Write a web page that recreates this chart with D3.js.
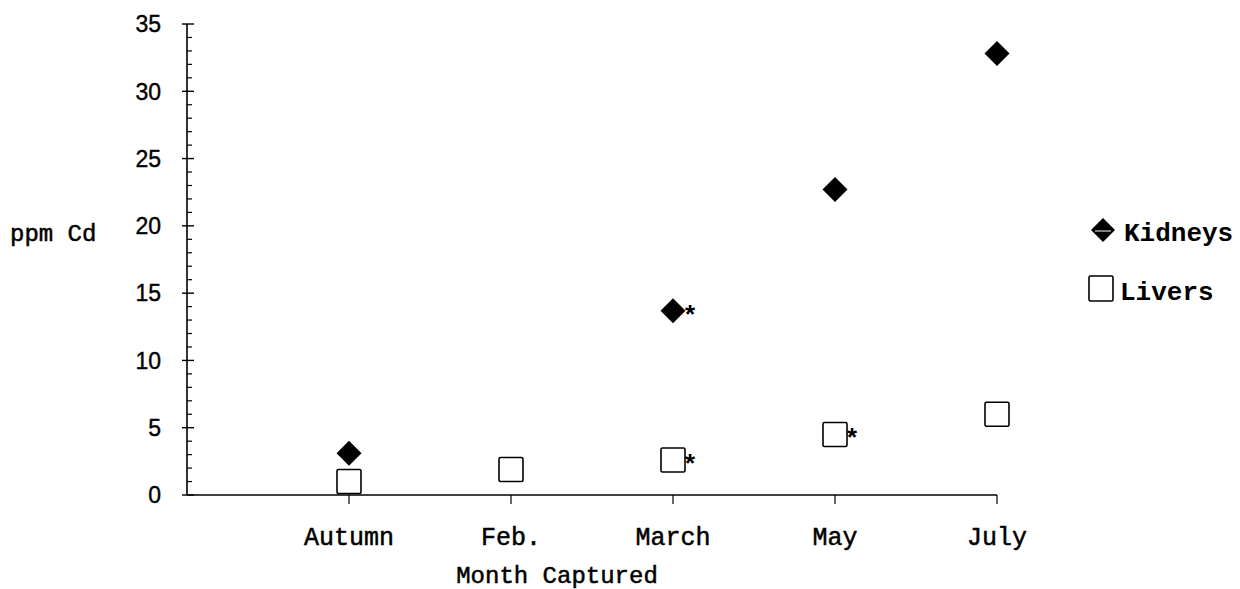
<!DOCTYPE html>
<html>
<head>
<meta charset="utf-8">
<script src="https://cdn.jsdelivr.net/npm/d3@7"></script>
<style>
  body { margin: 0; background: #fff; }
  svg { display: block; }
</style>
</head>
<body>
<div class="chart"></div>
<script>
// dati
const months = ["Autumn", "Feb.", "March", "May", "July"];
const kidneys = [3.1, null, 13.7, 22.7, 32.8];
const livers = [1.0, 1.9, 2.6, 4.5, 6.0];
const kidneyStar = [false, false, true, false, false];
const liverStar = [false, false, true, true, false];
const yTicks = [0, 5, 10, 15, 20, 25, 30, 35];

const width = 1240, height = 589;
const x0 = 187, x1 = 997, yBottom = 495, yTop = 24;

const svg = d3.select('.chart').append('svg')
    .attr('width', width)
    .attr('height', height);

// una categoria vuota all'inizio per lasciare spazio dopo l'asse y
const x = d3.scalePoint()
    .domain([""].concat(months))
    .range([x0, x1]);

const y = d3.scaleLinear()
    .domain([0, 35])
    .range([yBottom, yTop]);

const mono = "'Liberation Mono', 'DejaVu Sans Mono', monospace";

// asse y: linea, tacche maggiori e minori
svg.append('line')
    .attr('x1', x0).attr('x2', x0)
    .attr('y1', y(0)).attr('y2', y(35))
    .attr('stroke', '#000').attr('stroke-width', 1.6);

svg.selectAll('.minor')
    .data(d3.range(0, 36).filter(v => v % 5 !== 0))
    .enter().append('line')
    .attr('x1', x0).attr('x2', x0 + 5)
    .attr('y1', d => y(d)).attr('y2', d => y(d))
    .attr('stroke', '#000').attr('stroke-width', 1.2);

svg.selectAll('.major')
    .data(yTicks)
    .enter().append('line')
    .attr('x1', x0 - 5).attr('x2', x0 + 7)
    .attr('y1', d => y(d)).attr('y2', d => y(d))
    .attr('stroke', '#000').attr('stroke-width', 1.4);

svg.selectAll('.ylab')
    .data(yTicks)
    .enter().append('text')
    .attr('x', 161)
    .attr('y', d => y(d))
    .attr('dy', '0.36em')
    .attr('text-anchor', 'end')
    .style('font-family', "'Liberation Sans', Arial, sans-serif")
    .style('font-size', '23px')
    .style('stroke', '#000').style('stroke-width', 0.4)
    .text(d => d);

// asse x
svg.append('line')
    .attr('x1', x0).attr('x2', x1)
    .attr('y1', yBottom).attr('y2', yBottom)
    .attr('stroke', '#000').attr('stroke-width', 1.6);

svg.selectAll('.xtick')
    .data(months)
    .enter().append('line')
    .attr('x1', d => x(d)).attr('x2', d => x(d))
    .attr('y1', yBottom).attr('y2', yBottom + 9)
    .attr('stroke', '#000').attr('stroke-width', 1.2);

svg.selectAll('.xlab')
    .data(months)
    .enter().append('text')
    .attr('x', d => x(d))
    .attr('y', 536)
    .attr('dy', '0.35em')
    .attr('text-anchor', 'middle')
    .style('font-family', mono)
    .style('font-size', '25px')
    .style('stroke', '#000').style('stroke-width', 0.5)
    .text(d => d);

svg.append('text')
    .attr('x', 557).attr('y', 575)
    .attr('dy', '0.32em')
    .attr('text-anchor', 'middle')
    .style('font-family', mono)
    .style('font-size', '24px')
    .style('stroke', '#000').style('stroke-width', 0.5)
    .text('Month Captured');

svg.append('text')
    .attr('x', 10).attr('y', 233)
    .attr('dy', '0.35em')
    .style('font-family', mono)
    .style('font-size', '24px')
    .style('stroke', '#000').style('stroke-width', 0.5)
    .text('ppm Cd');

// simboli
const diamond = (cx, cy, r) => `M${cx},${cy - r}L${cx + r},${cy}L${cx},${cy + r}L${cx - r},${cy}Z`;

const kData = months.map((m, i) => ({ m, v: kidneys[i], star: kidneyStar[i] })).filter(d => d.v != null);
const lData = months.map((m, i) => ({ m, v: livers[i], star: liverStar[i] }));

svg.selectAll('.liver')
    .data(lData)
    .enter().append('rect')
    .attr('x', d => x(d.m) - 12)
    .attr('y', d => y(d.v) - 12)
    .attr('width', 24).attr('height', 24)
    .attr('rx', 1.5)
    .attr('fill', '#fff')
    .attr('stroke', '#000').attr('stroke-width', 1.6);

svg.selectAll('.kidney')
    .data(kData)
    .enter().append('path')
    .attr('d', d => diamond(x(d.m), y(d.v), 12.5))
    .attr('fill', '#000');

const stars = kData.filter(d => d.star).concat(lData.filter(d => d.star));
svg.selectAll('.star')
    .data(stars)
    .enter().append('text')
    .attr('x', d => x(d.m) + 17)
    .attr('y', d => y(d.v) + 13)
    .attr('text-anchor', 'middle')
    .style('font-family', mono)
    .style('font-weight', 'bold')
    .style('font-size', '26px')
    .text('*');

// legenda
const leg = svg.append('g');
leg.append('path')
    .attr('d', diamond(1103, 230, 12))
    .attr('fill', '#000');
leg.append('line')
    .attr('x1', 1095).attr('x2', 1111)
    .attr('y1', 231).attr('y2', 231)
    .attr('stroke', '#fff').attr('stroke-width', 1);
leg.append('text')
    .attr('x', 1124).attr('y', 232)
    .attr('dy', '0.35em')
    .style('font-family', mono)
    .style('font-weight', 'bold')
    .style('font-size', '26px')
    .text('Kidneys');

leg.append('rect')
    .attr('x', 1089).attr('y', 276)
    .attr('width', 24).attr('height', 25)
    .attr('rx', 1.5)
    .attr('fill', '#fff')
    .attr('stroke', '#000').attr('stroke-width', 1.6);
leg.append('text')
    .attr('x', 1120).attr('y', 291)
    .attr('dy', '0.35em')
    .style('font-family', mono)
    .style('font-weight', 'bold')
    .style('font-size', '26px')
    .text('Livers');
</script>
</body>
</html>
